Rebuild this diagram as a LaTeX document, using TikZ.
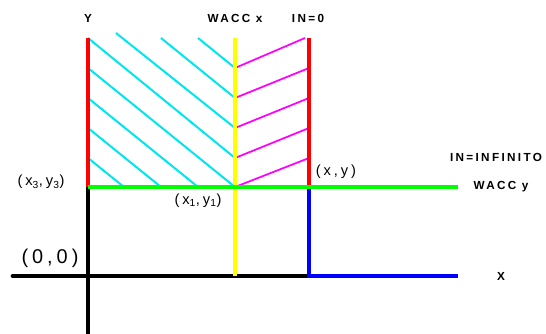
\documentclass[tikz,border=0pt]{standalone}
\usepackage{fontspec}
\setmainfont{Liberation Sans}
\newfontfamily\spacedfont[LetterSpace=20]{Liberation Sans}
\definecolor{hatchcyancol}{RGB}{0,230,240}
\definecolor{hatchmagcol}{RGB}{255,0,255}
\definecolor{wacccol}{RGB}{0,255,0}
\definecolor{limitcol}{RGB}{255,255,0}
\tikzset{
  axisline/.style={line width=4.2pt,black},
  boundline/.style={line width=3.4pt,red},
  wacc/.style={line width=3.4pt},
  hatchcyan/.style={line width=1.7pt,hatchcyancol},
  hatchmag/.style={line width=1.5pt,hatchmagcol},
  capslabel/.style={font=\spacedfont\bfseries\fontsize{10}{12}\selectfont},
  pointlabel/.style={font=\spacedfont\fontsize{12.5}{14}\selectfont}
}
\begin{document}
\begin{tikzpicture}[x=0.03cm,y=-0.03cm]
\useasboundingbox (0,0) rectangle (546,334);
% main points
\coordinate (O) at (88,276);
\coordinate (P3) at (88,187);
\coordinate (P1) at (235,187);
\coordinate (P) at (309,187);
% hatching left of WACC x
\draw[hatchcyan] (116,33) -- (235,128);
\draw[hatchcyan] (161,38) -- (235,98);
\draw[hatchcyan] (198,38) -- (235,68);
\draw[hatchcyan] (88,38) -- (235,158);
\draw[hatchcyan] (88,68) -- (P1);
\draw[hatchcyan] (88,98) -- (198,187);
\draw[hatchcyan] (88,128) -- (161,187);
\draw[hatchcyan] (88,158) -- (124,187);
% hatching right of WACC x
\draw[hatchmag] (235,68) -- (305,38);
\draw[hatchmag] (235,98) -- (309,68);
\draw[hatchmag] (235,128) -- (309,98);
\draw[hatchmag] (235,158) -- (309,128);
\draw[hatchmag] (P1) -- (309,158);
% lines
\draw[axisline,line cap=round] (13,276) -- (309,276);
\draw[axisline] (88,334) -- (P3);
\draw[boundline] (P3) -- (88,38);
\draw[boundline] (P) -- (309,38);
\draw[wacc,limitcol] (235,276) -- (235,38);
\draw[wacc,blue] (P) -- (309,276) -- (458,276);
\draw[wacc,wacccol] (P3) -- (458,187);
% labels
\node[capslabel] (lblY) at (88,18) {Y};
\node[capslabel] (lblWaccX) at (235,18) {WACC x};
\node[capslabel] (lblInZero) at (308,18) {IN=0};
\node[capslabel] (lblInInf) at (496,157) {IN=INFINITO};
\node[capslabel] (lblWaccY) at (501,187) {WACC y};
\node[capslabel] (lblX) at (501,276) {X};
\node[pointlabel] (lblXthree) at (41,182) {(x\textsubscript{3},y\textsubscript{3})};
\node[pointlabel] (lblXone) at (198,201) {(x\textsubscript{1},y\textsubscript{1})};
\node[pointlabel] (lblXY) at (336,172) {(x,y)};
\node[pointlabel,font=\spacedfont\fontsize{17}{20}\selectfont] (lblOrigin) at (50,258) {(0,0)};
\end{tikzpicture}
\end{document}
